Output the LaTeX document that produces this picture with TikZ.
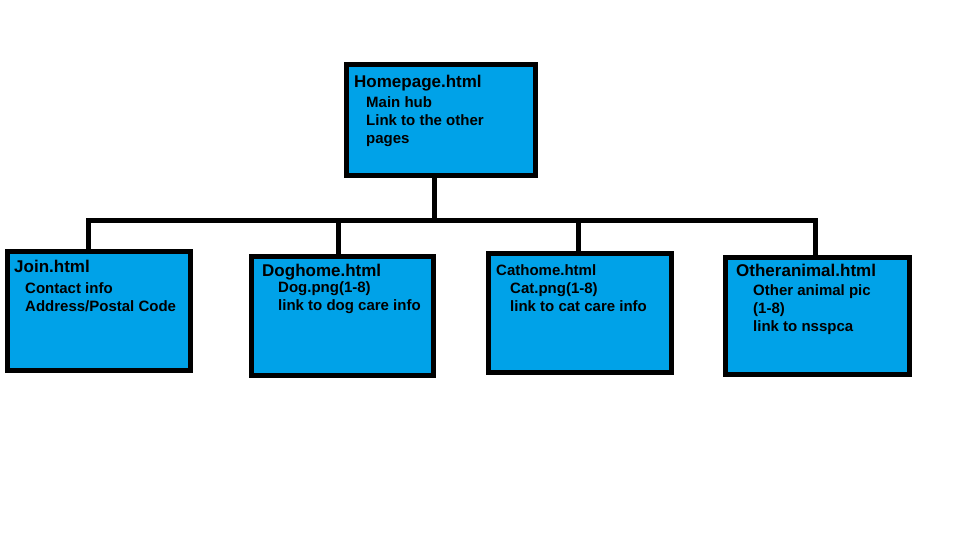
\documentclass[tikz,border=0pt]{standalone}
\usepackage{fontspec}
\setmainfont{Liberation Sans}
\definecolor{pageblue}{HTML}{00A2E8}
\begin{document}
\begin{tikzpicture}[x=1pt,y=-1pt,
  page/.style={draw=black, line width=5pt, fill=pageblue, rectangle, inner sep=0pt},
  wire/.style={draw=black, line width=5pt, line join=miter},
  ttl/.style={anchor=base west, inner sep=0pt, font=\bfseries\fontsize{17}{20}\selectfont},
  ttlsmall/.style={anchor=base west, inner sep=0pt, font=\bfseries\fontsize{15}{18}\selectfont},
  txt/.style={anchor=base west, inner sep=0pt, font=\bfseries\fontsize{15}{18}\selectfont}]
\fill[white] (0,0) rectangle (960,540);
\useasboundingbox (0,0) rectangle (960,540);

% page boxes
\node[page, minimum width=189pt, minimum height=111pt] (home)  at (441,120)   {};
\node[page, minimum width=183pt, minimum height=119pt] (join)  at (99,311)    {};
\node[page, minimum width=182pt, minimum height=119pt] (dog)   at (342.5,316) {};
\node[page, minimum width=183pt, minimum height=119pt] (cat)   at (580,313)   {};
\node[page, minimum width=184pt, minimum height=117pt] (other) at (817.5,316) {};

% tree connectors
\coordinate (bus) at (434,220.5);
\coordinate (hdrop) at ([xshift=-7pt]home.south);
\coordinate (jdrop) at ([xshift=-10.5pt]join.north);
\coordinate (ddrop) at ([xshift=-4.5pt]dog.north);
\coordinate (cdrop) at ([xshift=-2pt]cat.north);
\coordinate (odrop) at ([xshift=-2.5pt]other.north);
\draw[wire] (hdrop) -- (hdrop |- bus);
\draw[wire] (jdrop) -- (jdrop |- bus) -- (odrop |- bus) -- (odrop);
\draw[wire] (ddrop |- bus) -- (ddrop);
\draw[wire] (cdrop |- bus) -- (cdrop);

% Homepage
\node[ttl] (hometitle) at (354,88) {Homepage.html};
\node[txt] (home1) at (366,108) {Main hub};
\node[txt] (home2) at (366,126) {Link to the other};
\node[txt] (home3) at (366,144) {pages};

% Join
\node[ttl] (jointitle) at (14,272) {Join.html};
\node[txt] (join1) at (25,293) {Contact info};
\node[txt] (join2) at (25,311) {Address/Postal Code};

% Doghome
\node[ttl] (dogtitle) at (262,276) {Doghome.html};
\node[txt] (dog1) at (278,292) {Dog.png(1-8)};
\node[txt] (dog2) at (278,310) {link to dog care info};

% Cathome
\node[ttlsmall] (cattitle) at (496,275) {Cathome.html};
\node[txt] (cat1) at (510,293) {Cat.png(1-8)};
\node[txt] (cat2) at (510,311) {link to cat care info};

% Otheranimal
\node[ttl] (othertitle) at (736,276) {Otheranimal.html};
\node[txt] (other1) at (753,295) {Other animal pic};
\node[txt] (other2) at (753,313) {(1-8)};
\node[txt] (other3) at (753,331) {link to nsspca};
\end{tikzpicture}
\end{document}
